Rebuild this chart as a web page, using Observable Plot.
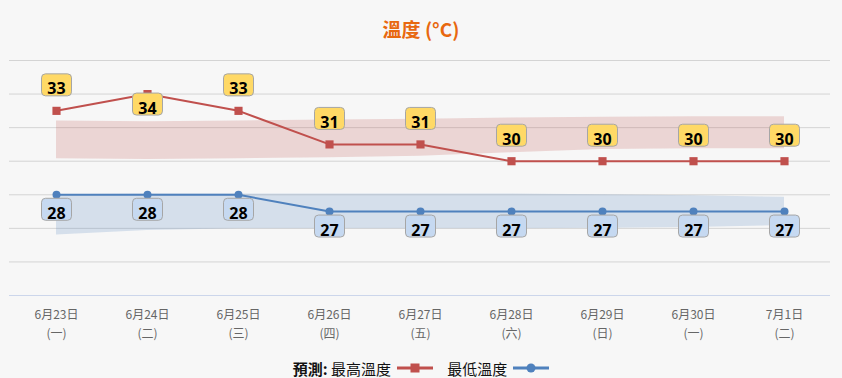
<!DOCTYPE html>
<html>
<head>
<meta charset="utf-8">
<script src="https://cdn.jsdelivr.net/npm/d3@7"></script>
<script src="https://cdn.jsdelivr.net/npm/@observablehq/plot@0.6"></script>
<style>
  html, body { margin: 0; padding: 0; background: #f7f7f7; }
  body { width: 842px; height: 378px; position: relative; overflow: hidden;
         font-family: "Noto Sans CJK TC", "Noto Sans", sans-serif; }
  #title { position: absolute; left: 0; top: 0; width: 842px; height: 50px;
           text-align: center; line-height: 57px; font-size: 19px; font-weight: bold; color: #e8680f; }
  #chart { position: absolute; left: 0; top: 50px; }
  #legend { position: absolute; left: 0; top: 356px; width: 842px; height: 24px;
            display: flex; justify-content: center; align-items: center; font-size: 15px; color: #111; }
  #legend .item { display: flex; align-items: center; margin: 0 4px; }
  #legend svg { margin-left: 6px; }
</style>
</head>
<body>
<div id="title">溫度 (°C)</div>
<div id="chart"></div>
<div id="legend"></div>
<script>
// ---- data ----
const dates = ["6月23日","6月24日","6月25日","6月26日","6月27日","6月28日","6月29日","6月30日","7月1日"];
const weekdays = ["一","二","三","四","五","六","日","一","二"];
const maxTemps = [33,34,33,31,31,30,30,30,30];
const minTemps = [28,28,28,27,27,27,27,27,27];
const maxRangeHigh = [32.4,32.35,32.4,32.45,32.5,32.57,32.62,32.65,32.65];
const maxRangeLow  = [30.15,30.1,30.15,30.2,30.3,30.5,30.7,30.75,30.75];
const minRangeHigh = [28.0,28.05,28.05,28.05,28.05,28.05,28.0,27.95,27.85];
const minRangeLow  = [25.6,25.87,25.97,25.97,25.97,25.97,26.0,26.05,26.17];
const yTicks = [22,24,26,28,30,32,34,36];
const seriesNames = ["最高溫度","最低溫度"];

const red = "#c0504d", blue = "#4f81bd";
const rows = dates.map((d,i) => ({
  date: d, max: maxTemps[i], min: minTemps[i],
  mh: maxRangeHigh[i], ml: maxRangeLow[i], nh: minRangeHigh[i], nl: minRangeLow[i]
}));
const wk = new Map(dates.map((d,i) => [d, weekdays[i]]));

const width = 842, height = 300, mT = 10, mB = 55, mL = 9, mR = 12;
const yMin = 22, yMax = 36;
const pxPerDeg = (height - mT - mB) / (yMax - yMin);
// label box above the point unless it would leave the plot area (then placed inside, below)
const fitsAbove = v => (yMax - v) * pxPerDeg >= 37;

const box = (w, h, r) => ({draw(ctx) {
  const x0 = -w/2, y0 = -h/2, x1 = w/2, y1 = h/2;
  ctx.moveTo(x0 + r, y0); ctx.lineTo(x1 - r, y0); ctx.arcTo(x1, y0, x1, y0 + r, r);
  ctx.lineTo(x1, y1 - r); ctx.arcTo(x1, y1, x1 - r, y1, r);
  ctx.lineTo(x0 + r, y1); ctx.arcTo(x0, y1, x0, y1 - r, r);
  ctx.lineTo(x0, y0 + r); ctx.arcTo(x0, y0, x0 + r, y0, r); ctx.closePath();
}});
const labelBox = box(30, 22, 4);

const above = rows.filter(d => fitsAbove(d.max));
const inside = rows.filter(d => !fitsAbove(d.max));
const labelFont = {fontSize: 16, fontWeight: "bold", fontFamily: "Open Sans", fill: "#000"};

const chart = Plot.plot({
  width, height, marginTop: mT, marginBottom: mB, marginLeft: mL, marginRight: mR,
  style: {background: "transparent", fontFamily: "Noto Sans CJK TC"},
  x: {type: "point", domain: dates, padding: 0.5, label: null},
  y: {domain: [yMin, yMax], axis: null},
  marks: [
    Plot.gridY(yTicks.filter(t => t > yMin), {stroke: "#d4d4d4", strokeOpacity: 1, strokeWidth: 1}),
    Plot.ruleY([yMin], {stroke: "#ccd6eb", strokeWidth: 1}),
    Plot.axisX({tickSize: 0, tickPadding: 10, fontSize: 12, lineHeight: 1.6, fill: "#666", label: null,
                tickFormat: d => `${d}\n(${wk.get(d)})`}),
    Plot.areaY(rows, {x: "date", y1: "ml", y2: "mh", fill: red, fillOpacity: 0.2}),
    Plot.areaY(rows, {x: "date", y1: "nl", y2: "nh", fill: blue, fillOpacity: 0.2}),
    Plot.line(rows, {x: "date", y: "max", stroke: red, strokeWidth: 2}),
    Plot.line(rows, {x: "date", y: "min", stroke: blue, strokeWidth: 2}),
    Plot.dot(rows, {x: "date", y: "max", symbol: "square", r: 4.6, fill: red, stroke: "none"}),
    Plot.dot(rows, {x: "date", y: "min", symbol: "circle", r: 4, fill: blue, stroke: "none"}),
    // max labels
    Plot.dot(above, {x: "date", y: "max", symbol: labelBox, fill: "#ffd966", stroke: "#a6a6a6", strokeWidth: 1, dy: -26}),
    Plot.text(above, {x: "date", y: "max", text: d => String(d.max), dy: -21.5, ...labelFont}),
    Plot.dot(inside, {x: "date", y: "max", symbol: labelBox, fill: "#ffd966", stroke: "#a6a6a6", strokeWidth: 1, dy: 10}),
    Plot.text(inside, {x: "date", y: "max", text: d => String(d.max), dy: 14.5, ...labelFont}),
    // min labels
    Plot.dot(rows, {x: "date", y: "min", symbol: labelBox, fill: "#c6d9f1", stroke: "#a6a6a6", strokeWidth: 1, dy: 14.5}),
    Plot.text(rows, {x: "date", y: "min", text: d => String(d.min), dy: 19, ...labelFont})
  ]
});
document.getElementById("chart").appendChild(chart);

// legend
const legend = document.getElementById("legend");
const sw = (color, shape) => {
  const m = shape === "square"
    ? `<rect x="13.5" y="4.5" width="9" height="9" fill="${color}"/>`
    : `<circle cx="18" cy="9" r="4.5" fill="${color}"/>`;
  return `<svg width="36" height="18"><line x1="0" y1="9" x2="36" y2="9" stroke="${color}" stroke-width="3"/>${m}</svg>`;
};
legend.innerHTML =
  `<span class="item"><span style="font-weight:600">預測:</span>&nbsp;${seriesNames[0]}${sw(red, "square")}</span>` +
  `<span class="item" style="margin-left:10px">${seriesNames[1]}${sw(blue, "circle")}</span>`;
</script>
</body>
</html>
